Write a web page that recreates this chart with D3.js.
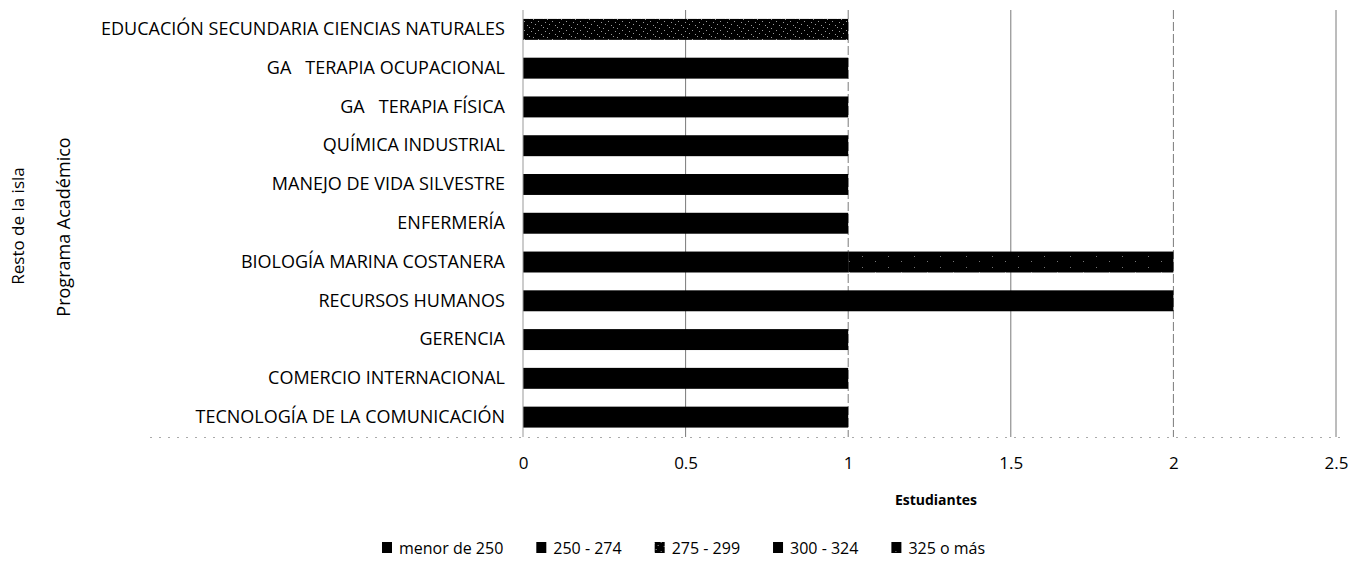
<!DOCTYPE html>
<html>
<head>
<meta charset="utf-8">
<script src="https://cdn.jsdelivr.net/npm/d3@7"></script>
<style>
  html, body { margin: 0; padding: 0; background: #fff; }
  svg { display: block; }
  text { font-family: "Open Sans", "Noto Sans", sans-serif; fill: #000; }
</style>
</head>
<body>
<svg id="chart" width="1365" height="566"></svg>
<script>
// ---- data ----
const categories = [
  "EDUCACIÓN SECUNDARIA CIENCIAS NATURALES",
  "GA   TERAPIA OCUPACIONAL",
  "GA   TERAPIA FÍSICA",
  "QUÍMICA INDUSTRIAL",
  "MANEJO DE VIDA SILVESTRE",
  "ENFERMERÍA",
  "BIOLOGÍA MARINA COSTANERA",
  "RECURSOS HUMANOS",
  "GERENCIA",
  "COMERCIO INTERNACIONAL",
  "TECNOLOGÍA DE LA COMUNICACIÓN"
];
const seriesNames = ["menor de 250", "250 - 274", "275 - 299", "300 - 324", "325 o más"];
const menor250 = [0, 0, 0, 0, 0, 0, 0, 0, 0, 0, 0];
const s250_274 = [0, 0, 0, 0, 0, 0, 0, 0, 0, 0, 0];
const s275_299 = [1, 0, 0, 0, 0, 0, 0, 0, 0, 0, 0];
const s300_324 = [0, 1, 1, 1, 1, 1, 1, 2, 1, 1, 1];
const s325mas  = [0, 0, 0, 0, 0, 0, 1, 0, 0, 0, 0];
const xTicks = [0, 0.5, 1, 1.5, 2, 2.5];
const xTitle = "Estudiantes";
const yTitleOuter = "Resto de la isla";
const yTitleInner = "Programa Académico";

// ---- build table ----
const seriesValues = [menor250, s250_274, s275_299, s300_324, s325mas];
const table = categories.map((c, i) => {
  const row = { cat: c };
  seriesNames.forEach((s, j) => { row[s] = seriesValues[j][i]; });
  return row;
});
const stacked = d3.stack().keys(seriesNames)(table);

const svg = d3.select("#chart");
const defs = svg.append("defs");

// stipple patterns (scanned look)
function stipple(id, w, h, pts, speck) {
  const p = defs.append("pattern").attr("id", id)
    .attr("patternUnits", "userSpaceOnUse").attr("width", w).attr("height", h);
  p.append("rect").attr("width", w).attr("height", h).attr("fill", "#000");
  pts.forEach(([x, y]) => p.append("rect").attr("x", x).attr("y", y)
    .attr("width", 1).attr("height", 1).attr("fill", speck));
}
stipple("stHeavy", 14, 9, [[1,1],[6,3],[11,0],[3,6],[9,7],[13,4]], "#9a9a9a");
stipple("stLight", 26, 11, [[4,3],[17,8]], "#777");

const fills = {
  "menor de 250": "#000",
  "250 - 274": "#000",
  "275 - 299": "url(#stHeavy)",
  "300 - 324": "#000",
  "325 o más": "url(#stLight)"
};

const x = d3.scaleLinear().domain([0, 2.5]).range([523, 1336]);
const y = d3.scaleBand().domain(categories).range([10, 436.5])
  .paddingInner(0.46).paddingOuter(0.23);

// gridlines
svg.append("g").selectAll("line").data(xTicks.filter(t => t > 0)).join("line")
  .attr("x1", d => x(d)).attr("x2", d => x(d))
  .attr("y1", 10).attr("y2", 437)
  .attr("stroke", "#7a7a7a").attr("stroke-width", 1)
  .attr("stroke-dasharray", (d, i) => i % 2 === 0 ? null : "9,3");

// faint bottom dotted line
svg.append("line").attr("x1", 150).attr("x2", 1340).attr("y1", 437.5).attr("y2", 437.5)
  .attr("stroke", "#aaa").attr("stroke-width", 1).attr("stroke-dasharray", "2,7");

// bars
svg.append("g").selectAll("g").data(stacked).join("g")
  .attr("fill", d => fills[d.key])
  .selectAll("rect").data(d => d.filter(v => v[1] - v[0] > 0)).join("rect")
  .attr("x", d => x(d[0]))
  .attr("width", d => x(d[1]) - x(d[0]))
  .attr("y", d => y(d.data.cat))
  .attr("height", y.bandwidth());

// y axis line
svg.append("line").attr("x1", x(0)).attr("x2", x(0)).attr("y1", 10).attr("y2", 437)
  .attr("stroke", "#999").attr("stroke-width", 1);

// category labels
const yAxis = d3.axisLeft(y).tickSize(0).tickPadding(18);
const yg = svg.append("g").attr("transform", `translate(${x(0)},0)`).call(yAxis);
yg.select(".domain").remove();
yg.selectAll("text").attr("font-size", 18).style("font-family", '"Open Sans", sans-serif')
  .attr("fill", "#000").style("white-space", "pre").attr("xml:space", "preserve");

// x axis ticks
const xAxis = d3.axisBottom(x).tickValues(xTicks).tickSize(0).tickPadding(0)
  .tickFormat(d3.format("~g"));
const xg = svg.append("g").attr("transform", "translate(0,457)").call(xAxis);
xg.select(".domain").remove();
xg.selectAll("text").attr("font-size", 17).attr("dy", "0.71em")
  .style("font-family", '"Open Sans", sans-serif').attr("fill", "#000");

// x title
svg.append("text").attr("x", 936).attr("y", 505).attr("text-anchor", "middle")
  .attr("font-size", 14).attr("font-weight", "bold").text(xTitle);

// y titles
svg.append("text").attr("transform", "translate(24,226) rotate(-90)")
  .attr("text-anchor", "middle").attr("font-size", 17).text(yTitleOuter);
svg.append("text").attr("transform", "translate(70,227) rotate(-90)")
  .attr("text-anchor", "middle").attr("font-size", 18).text(yTitleInner);

// legend
const lg = svg.append("g").attr("transform", "translate(382,548)");
let cx = 0;
seriesNames.forEach((s) => {
  const item = lg.append("g").attr("transform", `translate(${cx},0)`);
  item.append("rect").attr("x", 0).attr("y", -6).attr("width", 10).attr("height", 11)
    .attr("fill", fills[s]);
  const t = item.append("text").attr("x", 17).attr("y", 0).attr("dy", "0.35em")
    .attr("font-size", 16).text(s);
  const w = t.node().getComputedTextLength();
  cx += 17 + w + 33;
});
</script>
</body>
</html>
